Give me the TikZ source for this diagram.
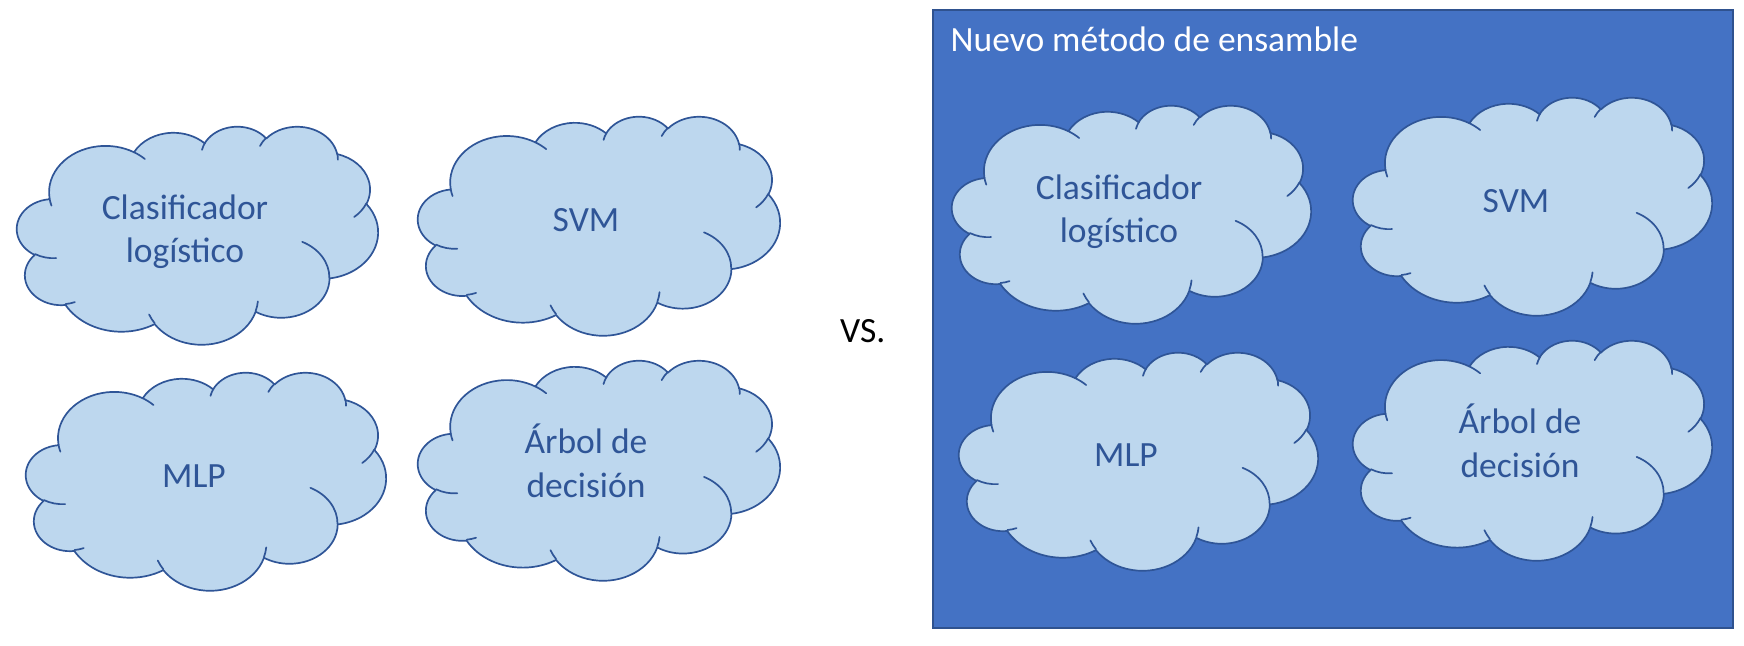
\documentclass[tikz,border=0pt]{standalone}
\usepackage{fontspec}
\setmainfont{Carlito}
\definecolor{cloudfill}{HTML}{BDD7EE}
\definecolor{cloudline}{HTML}{2F5597}
\definecolor{cloudtext}{HTML}{2F5597}
\definecolor{boxfill}{HTML}{4472C4}
\definecolor{boxline}{HTML}{2F528F}

% convert an OOXML arcTo (visual angles) into TikZ parametric angles
\newcommand\ooset[5]{%
  \pgfmathsetmacro\ootmpS{atan2((#2)*sin(#4),(#3)*cos(#4))}%
  \pgfmathsetmacro\ootmpE{atan2((#2)*sin(#4+#5),(#3)*cos(#4+#5))}%
  \pgfmathsetmacro\ootmpD{\ootmpE-\ootmpS}%
  \pgfmathsetmacro\ootmpD{\ootmpD-360*round((\ootmpD-(#5))/360)}%
  \expandafter\xdef\csname oo#1s\endcsname{\ootmpS}%
  \expandafter\xdef\csname oo#1d\endcsname{\ootmpD}%
}
\ooset{A}{67.53}{91.90}{-190.48748}{123.78053}
\ooset{B}{53.33}{72.67}{-144.10238}{89.94523}
\ooset{C}{43.65}{59.45}{-145.80792}{99.72302}
\ooset{D}{48.57}{65.95}{-130.98607}{117.24173}
\ooset{E}{53.33}{72.73}{-78.70888}{109.02692}
\ooset{F}{67.75}{92.20}{-46.26725}{130.269}
\ooset{G}{57.85}{78.67}{0.62502}{114.03333}
\ooset{H}{67.52}{92.15}{22.4516}{115.17255}
\ooset{I}{77.20}{105.43}{66.24263}{75.71102}
\ooset{J}{43.60}{59.18}{-274.94208}{146.73557}
\ooset{K}{43.45}{59.45}{-246.8285}{152.51885}
\ooset{a}{43.45}{59.45}{86.742}{26.4295}
\ooset{b}{43.60}{59.18}{73.61047}{11.44747}
\ooset{c}{67.52}{92.15}{137.62415}{14.0811}
\ooset{d}{67.52}{92.15}{6.45327}{15.99835}
\ooset{e}{57.85}{78.67}{-70.29235}{70.91737}
\ooset{f}{53.33}{72.73}{30.31803}{27.7515}
\ooset{g}{48.57}{65.95}{-13.74433}{14.8589}
\ooset{h}{48.57}{65.95}{-149.18145}{18.19537}
\ooset{i}{43.65}{59.45}{-163.49427}{17.68635}
\ooset{j}{67.53}{91.90}{-66.70695}{12.31935}
\ooset{k}{67.53}{91.90}{157.15288}{11.85107}

\tikzset{
  cloudbody/.style={fill=cloudfill, draw=cloudline, line width=1.7pt, line join=round},
  cloudinner/.style={draw=cloudline, line width=1.7pt, line cap=round},
  lbl/.style={inner sep=0pt, text=cloudtext, font=\fontsize{35.5}{43.3}\selectfont},
  titlelbl/.style={inner sep=0pt, text=white, font=\fontsize{35.5}{43.3}\selectfont},
  vslbl/.style={inner sep=0pt, text=black, font=\fontsize{35.5}{43.3}\selectfont},
  panel/.style={fill=boxfill, draw=boxline, line width=2pt}
}

\newcommand\cloudat[4]{%
  \pgfmathsetmacro\cldx{#3/432}%
  \pgfmathsetmacro\cldy{-#4/432}%
  \begin{scope}[shift={(#1,#2)},x=\cldx pt,y=\cldy pt]
    \path[cloudbody] (39.00,143.70)
      arc[start angle=\ooAs, delta angle=\ooAd, x radius=67.53, y radius=91.90]
      arc[start angle=\ooBs, delta angle=\ooBd, x radius=53.33, y radius=72.67]
      arc[start angle=\ooCs, delta angle=\ooCd, x radius=43.65, y radius=59.45]
      arc[start angle=\ooDs, delta angle=\ooDd, x radius=48.57, y radius=65.95]
      arc[start angle=\ooEs, delta angle=\ooEd, x radius=53.33, y radius=72.73]
      arc[start angle=\ooFs, delta angle=\ooFd, x radius=67.75, y radius=92.20]
      arc[start angle=\ooGs, delta angle=\ooGd, x radius=57.85, y radius=78.67]
      arc[start angle=\ooHs, delta angle=\ooHd, x radius=67.52, y radius=92.15]
      arc[start angle=\ooIs, delta angle=\ooId, x radius=77.20, y radius=105.43]
      arc[start angle=\ooJs, delta angle=\ooJd, x radius=43.60, y radius=59.18]
      arc[start angle=\ooKs, delta angle=\ooKd, x radius=43.45, y radius=59.45]
      -- cycle;
    \draw[cloudinner]
      (46.93,261.77) arc[start angle=\ooas, delta angle=\ooad, x radius=43.45, y radius=59.45]
      (69.28,348.99) arc[start angle=\oobs, delta angle=\oobd, x radius=43.60, y radius=59.18]
      (164.78,390.90) arc[start angle=\oocs, delta angle=\oocd, x radius=67.52, y radius=92.15]
      (288.27,347.51) arc[start angle=\oods, delta angle=\oodd, x radius=67.52, y radius=92.15]
      (341.29,229.54) arc[start angle=\ooes, delta angle=\ooed, x radius=57.85, y radius=78.67]
      (417.98,153.54) arc[start angle=\oofs, delta angle=\oofd, x radius=53.33, y radius=72.73]
      (383.24,54.26) arc[start angle=\oogs, delta angle=\oogd, x radius=48.57, y radius=65.95]
      (290.78,39.52) arc[start angle=\oohs, delta angle=\oohd, x radius=48.57, y radius=65.95]
      (221.41,47.20) arc[start angle=\oois, delta angle=\ooid, x radius=43.65, y radius=59.45]
      (140.00,51.92) arc[start angle=\oojs, delta angle=\oojd, x radius=67.53, y radius=91.90]
      (41.27,157.89) arc[start angle=\ooks, delta angle=\ookd, x radius=67.53, y radius=91.90];
  \end{scope}}

\begin{document}
\begin{tikzpicture}[x=1pt,y=-1pt]
\useasboundingbox (0,0) rectangle (1744,645);

% panel on the right
\path[panel] (933,10) rectangle (1733,628);
\node[titlelbl, anchor=base west] (title) at (950.5,51.7) {Nuevo método de ensamble};

% left clouds
\cloudat{17}{126}{361}{218}
\cloudat{418}{116}{362}{219}
\cloudat{26}{372}{360}{218}
\cloudat{418}{360}{362}{220}

% right clouds
\cloudat{952}{105}{359}{218}
\cloudat{1353}{97}{359}{218}
\cloudat{959}{352}{359}{218}
\cloudat{1353}{340}{359}{220}

% labels left
\node[lbl, anchor=base] (l1a) at (185,219) {Clasificador};
\node[lbl, anchor=base] (l1b) at (185,262) {logístico};
\node[lbl, anchor=base] (l2)  at (586,231) {SVM};
\node[lbl, anchor=base] (l3)  at (194,487) {MLP};
\node[lbl, anchor=base] (l4a) at (586,453) {Árbol de};
\node[lbl, anchor=base] (l4b) at (586,497) {decisión};

% labels right
\node[lbl, anchor=base] (r1a) at (1119,199) {Clasificador};
\node[lbl, anchor=base] (r1b) at (1119,242) {logístico};
\node[lbl, anchor=base] (r2)  at (1516,212.5) {SVM};
\node[lbl, anchor=base] (r3)  at (1126,466) {MLP};
\node[lbl, anchor=base] (r4a) at (1520,433) {Árbol de};
\node[lbl, anchor=base] (r4b) at (1520,477) {decisión};

% vs
\node[vslbl, anchor=base west] (vs) at (840,342) {VS.};
\end{tikzpicture}
\end{document}
